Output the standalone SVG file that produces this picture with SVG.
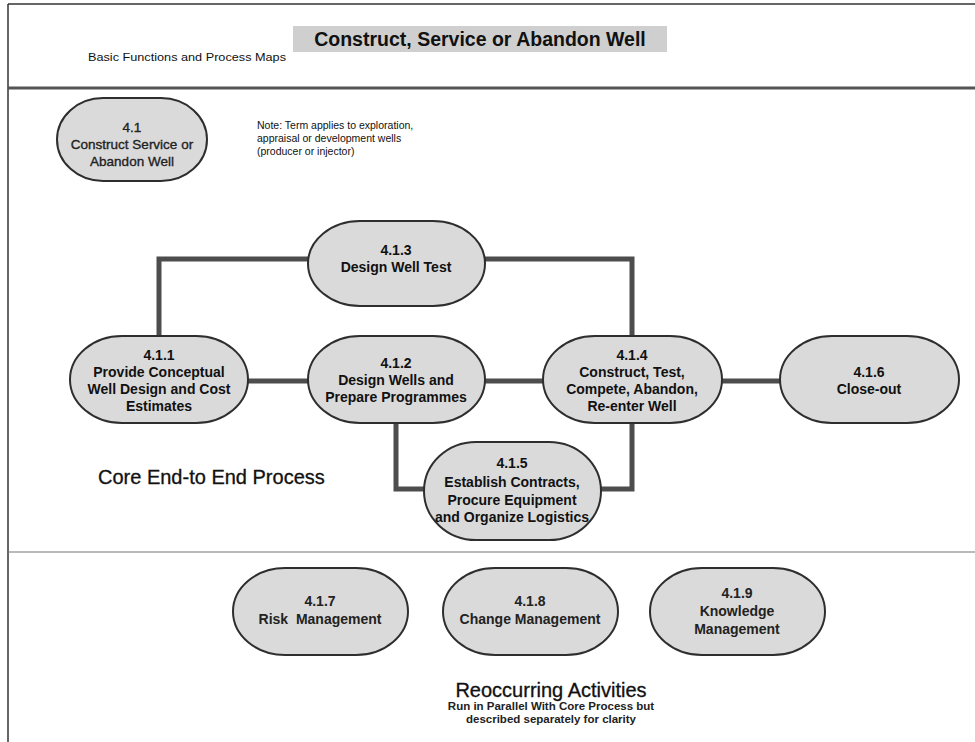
<svg xmlns="http://www.w3.org/2000/svg" width="975" height="742" viewBox="0 0 975 742">
<defs>
<style>
.node{fill:#dadada;stroke:#2e2e2e;stroke-width:2}
.t{font-family:"Liberation Sans",Arial,sans-serif;font-weight:bold;font-size:14px;fill:#111;text-anchor:middle}
.tn{font-family:"Liberation Sans",Arial,sans-serif;font-weight:bold;font-size:14px;fill:#222;text-anchor:middle;white-space:pre}
.t41{font-family:"Liberation Sans",Arial,sans-serif;font-size:13.5px;fill:#222;stroke:#222;stroke-width:0.35;text-anchor:middle}
.conn{fill:none;stroke:#4d4d4d;stroke-width:5;stroke-linejoin:miter}
.small{font-family:"Liberation Sans",Arial,sans-serif;font-size:10.5px;fill:#111}
.big{font-family:"Liberation Sans",Arial,sans-serif;font-size:20px;fill:#111;stroke:#111;stroke-width:0.3}
.sub{font-family:"Liberation Sans",Arial,sans-serif;font-weight:bold;font-size:11.5px;fill:#222;text-anchor:middle}
</style>
</defs>
<rect width="975" height="742" fill="#fff"/>
<g id="frame">
<line x1="8" y1="4" x2="975" y2="4" stroke="#333" stroke-width="1.5"/>
<line x1="8" y1="4" x2="8" y2="742" stroke="#333" stroke-width="1.5"/>
<line x1="8" y1="88" x2="975" y2="88" stroke="#555" stroke-width="3"/>
<line x1="8" y1="552" x2="975" y2="552" stroke="#777" stroke-width="1.2"/>
</g>
<g id="title">
<rect x="293" y="26" width="374" height="26" fill="#cfcfcf"/>
<text x="480" y="46" font-family="Liberation Sans,Arial,sans-serif" font-weight="bold" font-size="19.5" text-anchor="middle" fill="#111">Construct, Service or Abandon Well</text>
<text x="88" y="61" class="small" textLength="198" lengthAdjust="spacingAndGlyphs">Basic Functions and Process Maps</text>
</g>
<g id="connectors">
<polyline class="conn" points="159,337 159,259 309,259"/>
<polyline class="conn" points="484,259 632,259 632,337"/>
<line class="conn" x1="247" y1="381" x2="309" y2="381"/>
<line class="conn" x1="484" y1="381" x2="544" y2="381"/>
<line class="conn" x1="721" y1="381" x2="781" y2="381"/>
<polyline class="conn" points="396,422 396,489 428,489"/>
<polyline class="conn" points="632,422 632,489 599,489"/>
</g>
<g id="n4_1">
<rect class="node" x="57" y="98" width="150" height="83" rx="46" ry="41.5"/>
<text class="t41" x="132" y="132">4.1</text>
<text class="t41" x="132" y="149">Construct Service or</text>
<text class="t41" x="132" y="166">Abandon Well</text>
</g>
<g id="note">
<text class="small" x="257" y="129">Note: Term applies to exploration,</text>
<text class="small" x="257" y="142">appraisal or development wells</text>
<text class="small" x="257" y="155">(producer or injector)</text>
</g>
<g id="n4_1_3">
<rect class="node" x="308" y="221" width="177" height="85" rx="52" ry="42.5"/>
<text class="t" x="396" y="255">4.1.3</text>
<text class="t" x="396" y="272">Design Well Test</text>
</g>
<g id="n4_1_1">
<rect class="node" x="70" y="336" width="178" height="87" rx="52" ry="43.5"/>
<text class="t" x="159" y="360">4.1.1</text>
<text class="t" x="159" y="377">Provide Conceptual</text>
<text class="t" x="159" y="394">Well Design and Cost</text>
<text class="t" x="159" y="411">Estimates</text>
</g>
<g id="n4_1_2">
<rect class="node" x="308" y="336" width="177" height="87" rx="52" ry="43.5"/>
<text class="t" x="396" y="368">4.1.2</text>
<text class="t" x="396" y="385">Design Wells and</text>
<text class="t" x="396" y="402">Prepare Programmes</text>
</g>
<g id="n4_1_4">
<rect class="node" x="543" y="336" width="179" height="87" rx="52" ry="43.5"/>
<text class="t" x="632" y="360">4.1.4</text>
<text class="t" x="632" y="377">Construct, Test,</text>
<text class="t" x="632" y="394">Compete, Abandon,</text>
<text class="t" x="632" y="411">Re-enter Well</text>
</g>
<g id="n4_1_6">
<rect class="node" x="780" y="336" width="179" height="87" rx="52" ry="43.5"/>
<text class="t" x="869" y="377">4.1.6</text>
<text class="t" x="869" y="394">Close-out</text>
</g>
<g id="n4_1_5">
<rect class="node" x="424" y="442" width="177" height="98" rx="52" ry="49"/>
<text class="t" x="512" y="468">4.1.5</text>
<text class="t" x="512" y="487">Establish Contracts,</text>
<text class="t" x="512" y="505">Procure Equipment</text>
<text class="t" x="512" y="522">and Organize Logistics</text>
</g>
<text class="big" x="98" y="484">Core End-to End Process</text>
<g id="n4_1_7">
<rect class="node" x="233" y="568" width="175" height="87" rx="52" ry="43.5"/>
<text class="tn" x="320" y="606">4.1.7</text>
<text class="tn" x="320" y="624" xml:space="preserve">Risk  Management</text>
</g>
<g id="n4_1_8">
<rect class="node" x="443" y="568" width="175" height="87" rx="52" ry="43.5"/>
<text class="tn" x="530" y="606">4.1.8</text>
<text class="tn" x="530" y="624">Change Management</text>
</g>
<g id="n4_1_9">
<rect class="node" x="650" y="568" width="175" height="87" rx="52" ry="43.5"/>
<text class="tn" x="737" y="598">4.1.9</text>
<text class="tn" x="737" y="616">Knowledge</text>
<text class="tn" x="737" y="634">Management</text>
</g>
<g id="footer">
<text class="big" x="551" y="697" text-anchor="middle">Reoccurring Activities</text>
<text class="sub" x="551" y="710">Run in Parallel With Core Process but</text>
<text class="sub" x="551" y="723">described separately for clarity</text>
</g>
</svg>
